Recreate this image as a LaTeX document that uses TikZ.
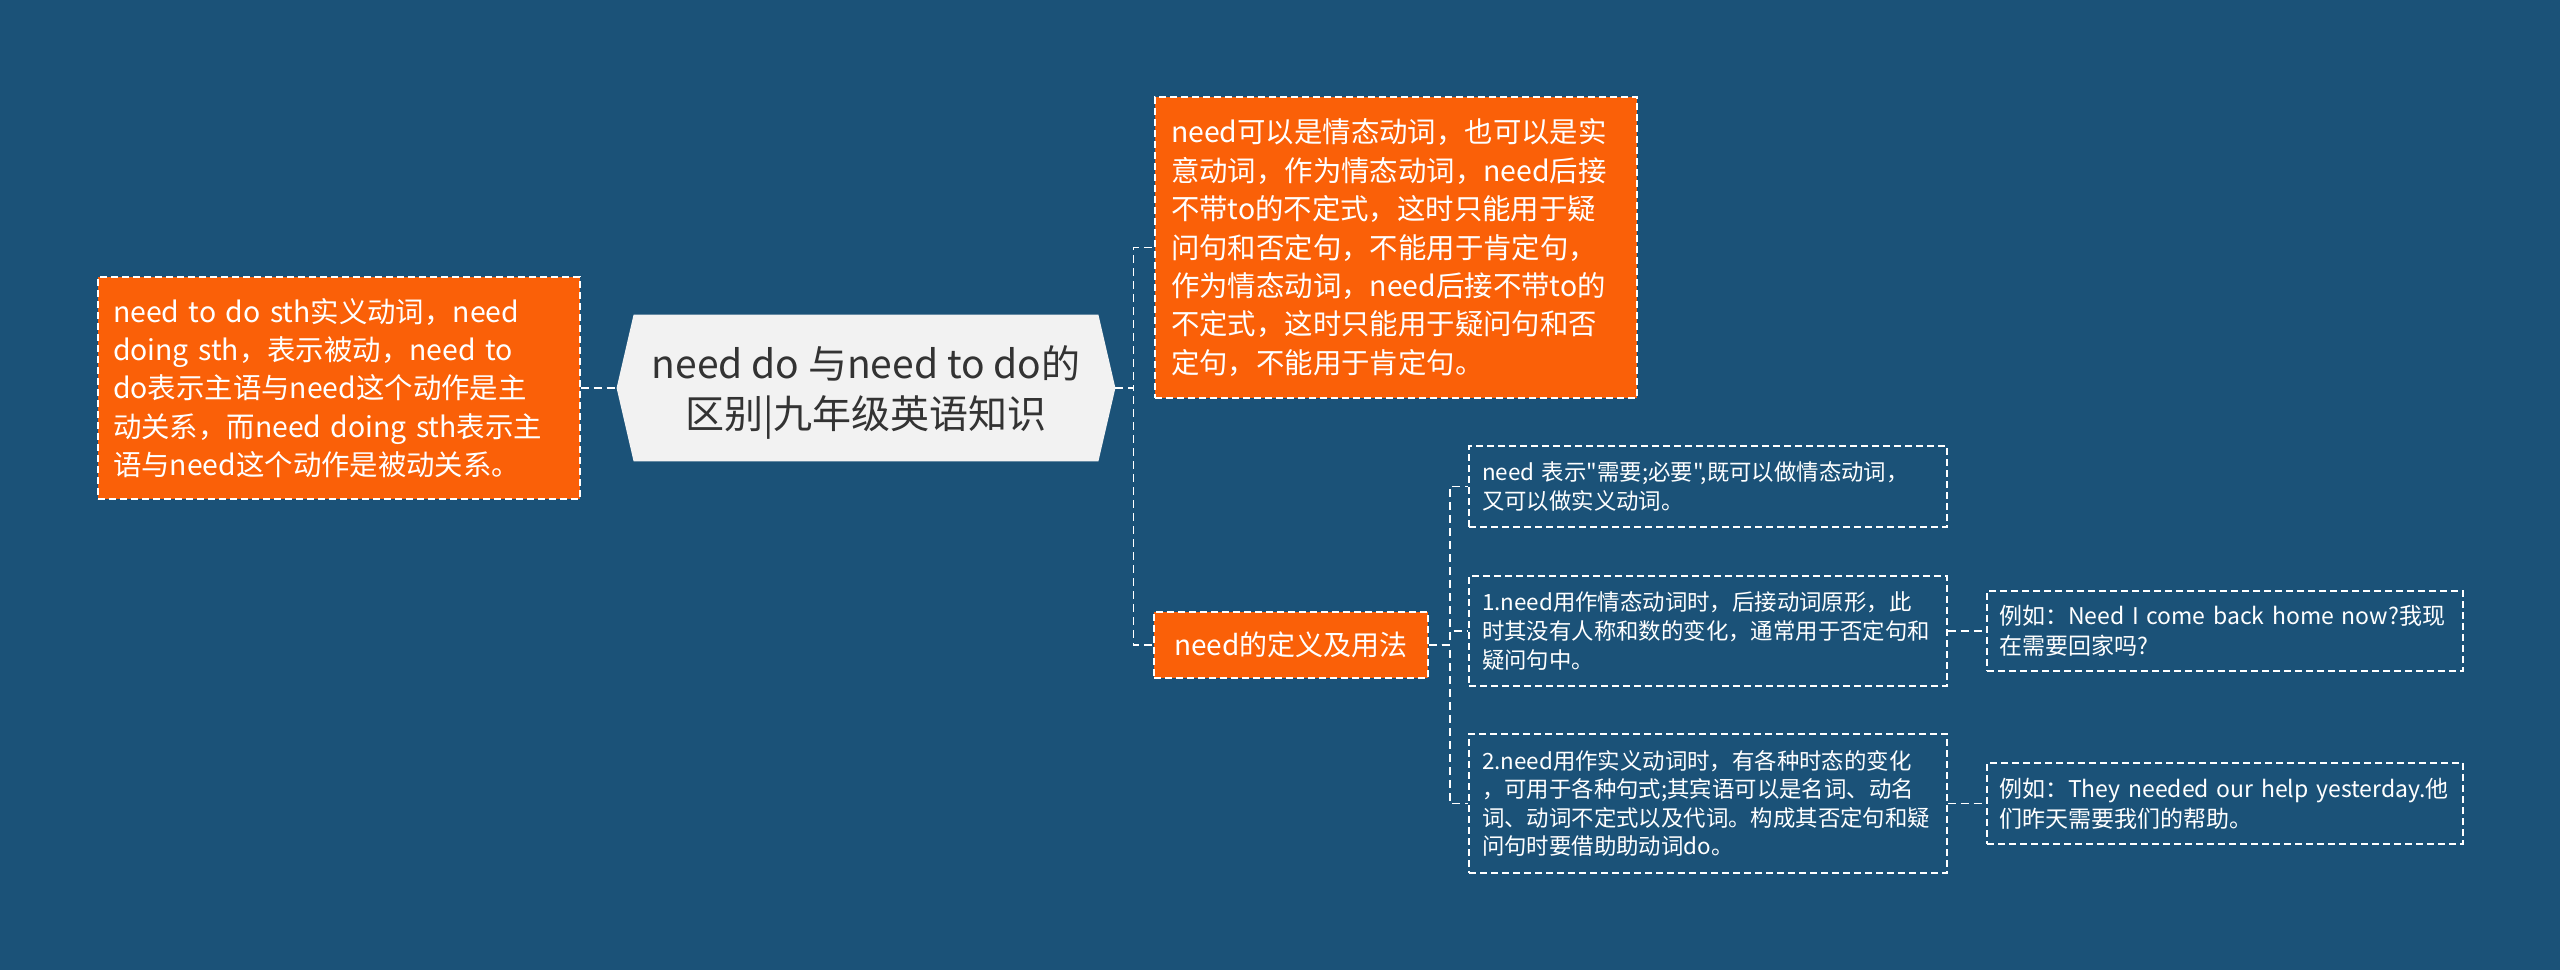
\documentclass[tikz,border=0pt]{standalone}
\usepackage{fontspec}
\setmainfont{Noto Sans CJK SC}[Ligatures=TeXOff]
\definecolor{bgC}{RGB}{27,82,120}
\definecolor{orangeC}{RGB}{250,96,8}
\definecolor{centerC}{RGB}{242,242,242}
\definecolor{darkT}{RGB}{51,51,51}
\begin{document}
\begin{tikzpicture}[x=0.5pt,y=-0.5pt,
  conn/.style={draw=white, line width=0.8pt, dash pattern=on 4pt off 2.5pt},
  obox/.style={fill=orangeC, draw=white, line width=0.7pt, dash pattern=on 3.5pt off 2pt, text=white, align=left, inner sep=0pt},
  dbox/.style={draw=white, line width=0.7pt, dash pattern=on 3.5pt off 2pt, text=white, align=left, inner sep=0pt},
  bigtxt/.style={font=\fontsize{14.2}{19.2}\selectfont},
  subtxt/.style={font=\fontsize{11.2}{14.3}\selectfont, inner xsep=6.5pt, text width=226pt},
  extxt/.style={font=\fontsize{11.5}{15}\selectfont, inner xsep=6pt, text width=226pt}
]
\useasboundingbox[fill=bgC] (0,0) rectangle (2560,970);

% centre node
\node[minimum width=232pt, minimum height=73pt, inner sep=0pt] (C) at (866,388) {};
\coordinate (cw) at ([xshift=-8.5pt]C.west);
\coordinate (ce) at ([xshift=8.5pt]C.east);
\fill[centerC] (cw) -- (C.north west) -- (C.north east) -- (ce) -- (C.south east) -- (C.south west) -- cycle;
\node[align=center, text=darkT, font=\fontsize{19.5}{25}\selectfont] (Ct) at ([yshift=-2pt]C.center) {need do 与need to do的\\区别|九年级英语知识};

% left box
\node[obox, bigtxt, inner xsep=7.5pt, text width=226pt, minimum height=111pt] (L) at (339,388)
 {need to do sth实义动词，need\\doing sth，表示被动，need to\\do表示主语与need这个动作是主\\动关系，而need doing sth表示主\\语与need这个动作是被动关系。};

% top right box
\node[obox, bigtxt, inner xsep=8pt, text width=225pt, minimum height=150.5pt] (T) at (1396,247.5)
 {need可以是情态动词，也可以是实\\意动词，作为情态动词，need后接\\不带to的不定式，这时只能用于疑\\问句和否定句，不能用于肯定句，\\作为情态动词，need后接不带to的\\不定式，这时只能用于疑问句和否\\定句，不能用于肯定句。};

% need box
\node[obox, font=\fontsize{14}{16}\selectfont, minimum width=137pt, minimum height=33pt] (N) at (1291,645)
 {need的定义及用法};

% sub boxes
\node[dbox, subtxt, minimum height=40.5pt] (A) at (1708,486.5)
 {need 表示"需要;必要",既可以做情态动词，\\又可以做实义动词。};
\node[dbox, subtxt, minimum height=55pt] (B) at (1708,631)
 {1.need用作情态动词时，后接动词原形，此\\时其没有人称和数的变化，通常用于否定句和\\疑问句中。};
\node[dbox, subtxt, minimum height=69.5pt] (S) at (1708,803.5)
 {2.need用作实义动词时，有各种时态的变化\\，可用于各种句式;其宾语可以是名词、动名\\词、动词不定式以及代词。构成其否定句和疑\\问句时要借助助动词do。};

% example boxes
\node[dbox, extxt, minimum height=40pt] (D) at (2225,631)
 {例如：\mbox{Need I come back home now?}我现\\在需要回家吗?};
\node[dbox, extxt, minimum height=40.5pt] (E) at (2225,803.5)
 {例如：\mbox{They needed our help yesterday.}他\\们昨天需要我们的帮助。};

% connectors
\draw[conn] (L.east) -- (cw);
\draw[conn] (ce) -- ++(9pt,0) |- (T.west);
\draw[conn] (ce) -- ++(9pt,0) |- (N.west);
\draw[conn] (N.east) -- ++(10.5pt,0) |- (A.west);
\draw[conn] (N.east) -- ++(10.5pt,0) |- (B.west);
\draw[conn] (N.east) -- ++(10.5pt,0) |- (S.west);
\draw[conn] (B.east) -- (D.west);
\draw[conn] (S.east) -- (E.west);
\end{tikzpicture}
\end{document}
